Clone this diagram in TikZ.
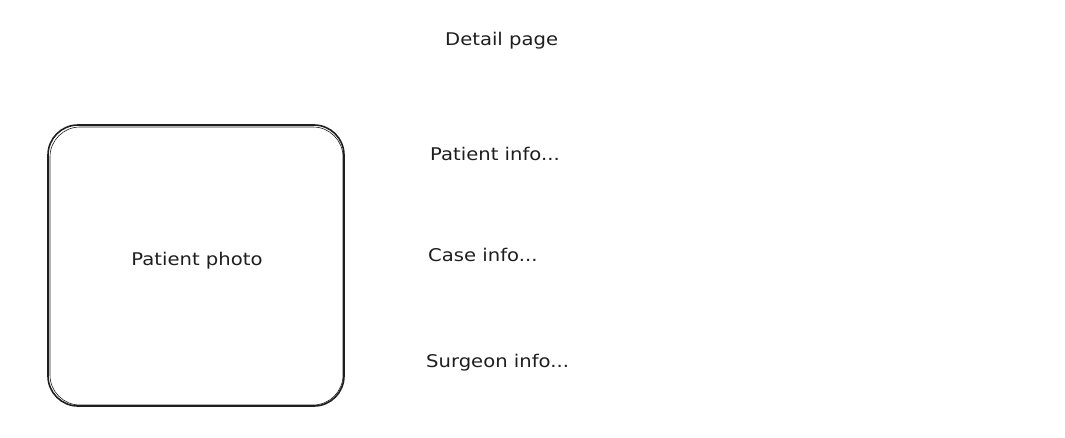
\documentclass[tikz,border=0pt]{standalone}
\usepackage{fontspec}
\setmainfont{DejaVu Sans}
\definecolor{ink}{HTML}{1E1E1E}
\newcommand{\handtext}[1]{\scalebox{1.12}[1]{#1}}
\begin{document}
\begin{tikzpicture}[x=1pt,y=-1pt,
  label text/.style={anchor=west,inner sep=0pt,text=ink,font=\fontsize{17.5}{20}\selectfont},
  photo box/.style={draw=ink,line width=1.6pt,rounded corners=30pt}]
\useasboundingbox (0,0) rectangle (1065,437);
\draw[photo box] (48,125) rectangle (344,406);
\draw[ink,line width=0.6pt,rounded corners=30pt] (50,127) rectangle (343,405);
\node[label text] (title) at (445,40.5) {\handtext{Detail page}};
\node[label text] (pinfo) at (430,153.5) {\handtext{Patient info...}};
\node[label text] (cinfo) at (428,254.5) {\handtext{Case info...}};
\node[label text] (sinfo) at (426,362.5) {\handtext{Surgeon info...}};
\node[label text,anchor=center] (photo) at (197,260.5) {\handtext{Patient photo}};
\end{tikzpicture}
\end{document}
